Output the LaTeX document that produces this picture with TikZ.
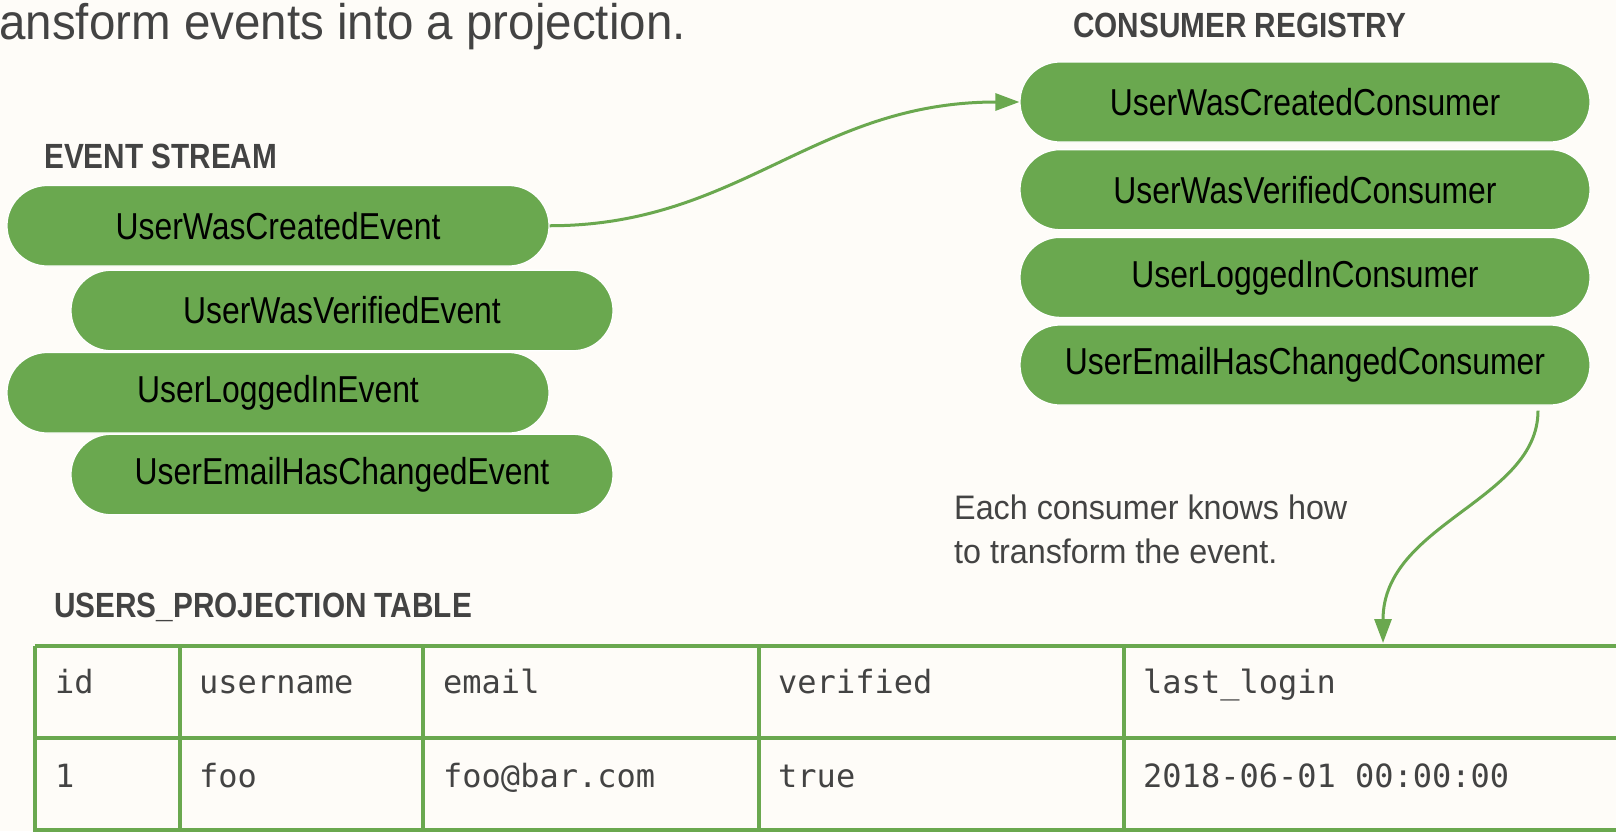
\documentclass[tikz,border=0pt]{standalone}
\usepackage{fontspec}
\setmainfont{Liberation Sans}[FakeStretch=0.85]
\newfontfamily\lightfont{Liberation Sans}[FakeStretch=0.95]
\setmonofont{DejaVu Sans Mono}
\usetikzlibrary{arrows.meta,shapes.misc}
\definecolor{bg}{HTML}{FEFCF8}
\definecolor{grn}{HTML}{6AA84F}
\definecolor{ink}{HTML}{434343}
\begin{document}
\begin{tikzpicture}[x=1pt,y=-1pt,
  pill/.style={rounded rectangle, fill=grn, draw=white, line width=1.2pt,
    minimum width=542pt, minimum height=80.5pt, inner sep=0pt, text=black,
    font=\fontsize{37.5}{45}\selectfont},
  cpill/.style={pill, minimum width=570pt, minimum height=80pt},
  heading/.style={anchor=base west, inner sep=0pt, text=ink,
    font=\fontsize{35}{42}\selectfont\bfseries},
  note/.style={anchor=base west, inner sep=0pt, text=ink,
    font=\lightfont\fontsize{34}{44}\selectfont},
  cell/.style={anchor=base west, inner sep=0pt, text=ink,
    font=\ttfamily\fontsize{32}{38}\selectfont},
  conn/.style={draw=grn, line width=3pt, -{Triangle[length=24pt,width=17pt]}},
  tbl/.style={draw=grn, line width=3.5pt},
]
\useasboundingbox (0,0) rectangle (1616,831);
\clip (0,0) rectangle (1616,831);
\fill[bg] (0,0) rectangle (1616,831);

% title
\node[anchor=base east, inner sep=0pt, text=ink,
  font=\lightfont\fontsize{50}{60}\selectfont] (title) at (686,39)
  {ansform events into a projection.};

% headings
\node[heading] (hev) at (44,168) {EVENT STREAM};
\node[heading] (hcons) at (1073,37) {CONSUMER REGISTRY};
\node[heading] (htbl) at (54,617) {USERS\_PROJECTION TABLE};

% event stream
\node[pill] (e1) at (278,225.75) {UserWasCreatedEvent};
\node[pill] (e2) at (342,310.5) {UserWasVerifiedEvent};
\node[pill] (e3) at (278,392.75) {UserLoggedInEvent};
\node[pill] (e4) at (342,474.5) {UserEmailHasChangedEvent};

% consumer registry
\node[cpill] (c1) at (1305,102) {UserWasCreatedConsumer};
\node[cpill] (c2) at (1305,189.7) {UserWasVerifiedConsumer};
\node[cpill] (c3) at (1305,277.4) {UserLoggedInConsumer};
\node[cpill] (c4) at (1305,365) {UserEmailHasChangedConsumer};

% note
\node[note] (n1) at (954,519) {Each consumer knows how};
\node[note] (n2) at (954,563) {to transform the event.};

% table
\draw[tbl] (35,646) -- (1700,646);
\draw[tbl] (35,738) -- (1700,738);
\draw[tbl] (35,830) -- (1700,830);
\foreach \cx in {35,180,423,759,1124} {
  \draw[tbl] (\cx,646) -- (\cx,840);
}
\node[cell] (h1) at (55,693) {id};
\node[cell] (h2) at (199,693) {username};
\node[cell] (h3) at (443,693) {email};
\node[cell] (h4) at (778,693) {verified};
\node[cell] (h5) at (1143,693) {last\_login};
\node[cell] (r1) at (55,787) {1};
\node[cell] (r2) at (199,787) {foo};
\node[cell] (r3) at (443,787) {foo@bar.com};
\node[cell] (r4) at (778,787) {true};
\node[cell] (r5) at (1143,787) {2018-06-01 00:00:00};

% connectors
\coordinate (a2s) at ([xshift=233pt,yshift=-5pt]c4.south);
\coordinate (a2e) at (1383,643);
\draw[conn] (e1.east) .. controls +(190,0) and +(-205,0) .. (c1.west);
\draw[conn] (a2s) .. controls +(0,90) and +(0,-120) .. (a2e);
\end{tikzpicture}
\end{document}
